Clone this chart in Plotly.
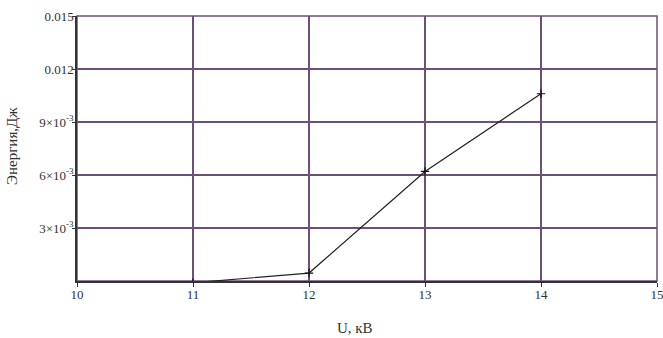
import plotly.graph_objects as go

U = [11, 12, 13, 14]
energy = [-0.0001, 0.00045, 0.0062, 0.0106]

x_ticks = [10, 11, 12, 13, 14, 15]
x_labels = ["10", "11", "12", "13", "14", "15"]
y_ticks = [0.003, 0.006, 0.009, 0.012, 0.015]
y_labels = ["3×10<sup>-3</sup>", "6×10<sup>-3</sup>", "9×10<sup>-3</sup>", "0.012", "0.015"]

grid_color = "#6c5078"
font_family = "Liberation Serif, Times New Roman, serif"

fig = go.Figure()
fig.add_trace(go.Scatter(
    x=U, y=energy, mode="lines+markers",
    line=dict(color="#222222", width=1.2),
    marker=dict(symbol="cross-thin", size=6, line=dict(color="#111111", width=1.2)),
    showlegend=False,
))

fig.update_layout(
    width=663, height=338,
    margin=dict(l=77, r=6, t=16, b=57, autoexpand=False),
    paper_bgcolor="white", plot_bgcolor="white",
    font=dict(family=font_family, size=13, color="#333333"),
    xaxis=dict(
        range=[10, 15], tickvals=x_ticks, ticktext=x_labels,
        showgrid=True, gridcolor=grid_color, gridwidth=1.5,
        showline=True, linecolor="#333333", linewidth=1.5,
        ticks="outside", ticklen=4, tickcolor="#333333",
        zeroline=False, automargin=False, ticklabeloverflow="allow",
        ticklabelstandoff=-3,
        tickfont=dict(size=13, family=font_family, color="#333333"),
    ),
    yaxis=dict(
        range=[0, 0.015], tickvals=y_ticks, ticktext=y_labels,
        showgrid=True, gridcolor=grid_color, gridwidth=1.5,
        showline=True, linecolor="#333333", linewidth=1.5,
        ticks="outside", ticklen=3, tickcolor="#333333",
        zeroline=False, automargin=False, ticklabeloverflow="allow",
        ticklabelstandoff=-4,
        tickfont=dict(size=13, family=font_family, color="#333333"),
    ),
    shapes=[dict(type="rect", xref="paper", yref="paper", x0=0, y0=0, x1=1, y1=1,
                 line=dict(color=grid_color, width=1.5), layer="below")],
    annotations=[
        dict(text="U, кВ", xref="paper", yref="paper", x=0.479, y=-0.14,
             xanchor="center", yanchor="top", showarrow=False,
             font=dict(size=15, family=font_family, color="#333333")),
        dict(text="Энергия,Дж", xref="paper", yref="paper", x=-0.112, y=0.51,
             xanchor="center", yanchor="middle", showarrow=False, textangle=-90,
             font=dict(size=15, family=font_family, color="#333333")),
    ],
)

fig.write_html("out.html", config={"displayModeBar": False},
               post_script="document.body.style.margin='0';document.body.style.overflow='hidden';")
